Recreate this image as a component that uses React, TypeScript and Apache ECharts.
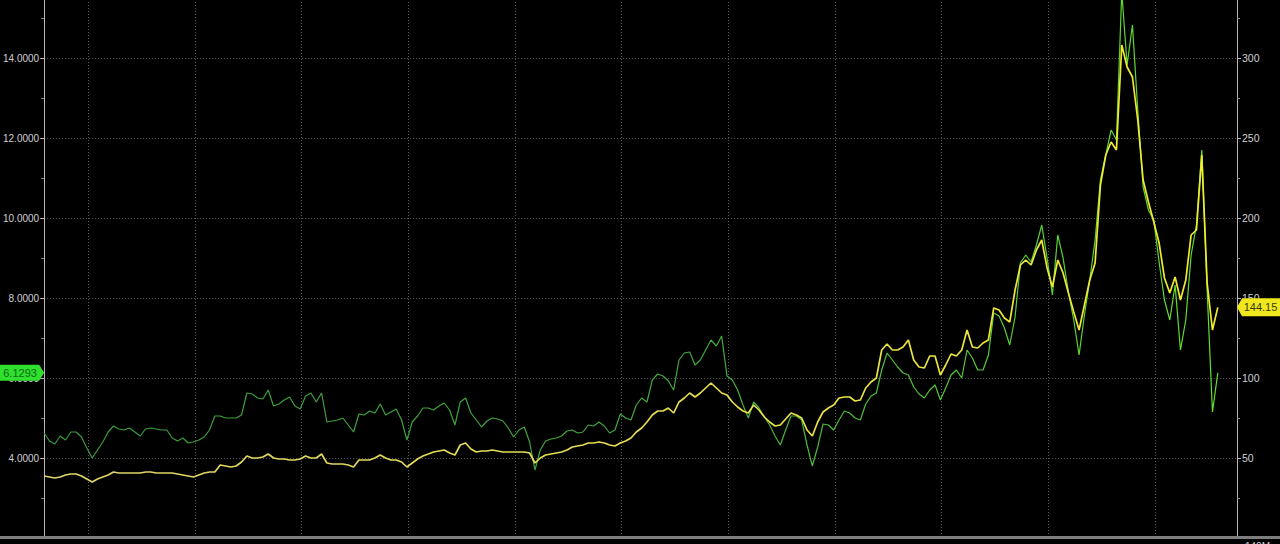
import React, { useEffect, useRef } from "react";
import * as echarts from "echarts";

// Time axis (fractional years), regular weekly-ish sampling
const X_MIN = 2011.588;
const X_MAX = 2022.768;
const X_STEP = 0.05;

// Left axis series (green)
const GREEN = [
  4.625, 4.425, 4.35, 4.55, 4.45, 4.65, 4.65, 4.525, 4.25, 4.0,
  4.2, 4.4, 4.65, 4.8, 4.725, 4.7, 4.75, 4.65, 4.55, 4.725,
  4.75, 4.725, 4.7, 4.7, 4.5, 4.425, 4.5, 4.375, 4.4, 4.45,
  4.525, 4.7, 5.05, 5.05, 5.0, 5.0, 5.0, 5.075, 5.625, 5.6,
  5.5, 5.475, 5.7, 5.3, 5.35, 5.45, 5.525, 5.3, 5.225, 5.55,
  5.625, 5.4, 5.625, 4.9, 4.925, 4.95, 5.0, 4.825, 4.65, 5.1,
  5.075, 5.175, 5.125, 5.35, 5.075, 5.15, 5.225, 4.95, 4.45, 4.9,
  5.05, 5.25, 5.25, 5.2, 5.3, 5.375, 5.2, 4.825, 5.4, 5.5,
  5.125, 4.95, 4.775, 4.925, 5.0, 4.975, 4.925, 4.75, 4.525, 4.7,
  4.775, 4.4, 3.7, 4.2, 4.425, 4.475, 4.5, 4.55, 4.675, 4.7,
  4.625, 4.65, 4.825, 4.8, 4.9, 4.8, 4.625, 4.7, 5.1, 5.0,
  4.95, 5.325, 5.5, 5.4, 5.95, 6.1, 6.05, 5.925, 5.7, 6.45,
  6.625, 6.65, 6.325, 6.45, 6.7, 6.95, 6.8, 7.05, 6.05, 5.95,
  5.7, 5.325, 5.0, 5.4, 5.25, 5.025, 4.825, 4.55, 4.325, 4.7,
  5.05, 5.05, 4.95, 4.325, 3.8, 4.275, 4.85, 4.825, 4.7, 4.95,
  5.175, 5.125, 5.0, 4.95, 5.35, 5.55, 5.625, 6.2, 6.625, 6.45,
  6.275, 6.125, 6.075, 5.775, 5.6, 5.5, 5.7, 5.825, 5.45, 5.75,
  6.075, 6.2, 6.0, 6.7, 6.5, 6.2, 6.2, 6.575, 7.625, 7.55,
  7.25, 6.825, 7.525, 8.875, 9.075, 8.9, 9.325, 9.825, 9.0, 8.075,
  9.575, 9.0, 8.15, 7.45, 6.575, 7.575, 8.45, 9.45, 10.95, 11.575,
  12.2, 11.95, 15.65, 13.825, 14.825, 12.7, 10.775, 10.2, 9.95, 8.9,
  7.95, 7.45, 8.325, 6.7, 7.45, 9.075, 9.825, 11.7, 8.2, 5.15,
  6.1293,
];

// Right axis series (yellow)
const YELLOW = [
  38.75, 38.125, 37.5, 38.125, 39.375, 40, 40, 38.75, 36.875, 35,
  36.875, 38.125, 39.375, 41.25, 40.625, 40.625, 40.625, 40.625, 40.625, 41.25,
  41.25, 40.625, 40.625, 40.625, 40.625, 40, 39.375, 38.75, 38.125, 39.375,
  40.625, 41.25, 41.25, 45.625, 45, 44.375, 45, 47.5, 51.25, 50,
  50, 50.625, 52.5, 50, 49.375, 49.375, 48.75, 48.75, 49.375, 51.25,
  50, 50, 52.5, 46.875, 46.25, 46.25, 46.25, 45.625, 44.375, 48.75,
  48.75, 48.75, 50, 51.875, 50, 48.75, 48.75, 47.5, 44.375, 46.875,
  49.375, 51.25, 52.5, 53.75, 54.375, 55, 53.125, 51.875, 58.125, 59.375,
  55.625, 53.75, 54.375, 54.375, 55, 54.375, 53.75, 53.75, 53.75, 53.75,
  53.75, 53.125, 46.875, 50, 51.875, 52.5, 53.125, 53.75, 55, 56.875,
  57.5, 58.125, 59.375, 59.375, 60, 59.375, 58.125, 57.5, 59.375, 60.625,
  62.5, 66.25, 68.75, 72.5, 76.875, 79.375, 79.375, 81.25, 78.125, 85,
  87.5, 90.625, 88.125, 90.625, 93.75, 96.875, 93.75, 90.625, 89.375, 85,
  81.875, 79.375, 78.125, 83.125, 80, 75.625, 72.5, 70, 70.625, 74.375,
  78.125, 76.875, 75, 67.5, 63.75, 72.5, 78.75, 81.25, 83.125, 87.5,
  88.125, 88.125, 85.625, 86.25, 93.75, 97.5, 100, 117.5, 121.25, 117.5,
  117.5, 119.375, 123.75, 111.25, 106.875, 106.25, 113.75, 113.75, 101.875, 108.125,
  115, 113.75, 117.5, 130, 119.375, 118.75, 121.875, 123.75, 143.75, 142.5,
  137.5, 135, 155, 170.625, 173.75, 170.625, 180, 186.25, 168.75, 156.875,
  173.75, 165.625, 153.125, 141.25, 130, 145.625, 161.25, 171.875, 220.625, 239.375,
  247.5, 242.5, 308.125, 294.375, 288.125, 261.25, 223.75, 210, 197.5, 184.375,
  162.5, 153.125, 163.125, 148.75, 161.25, 189.375, 192.5, 239.375, 159.375, 130,
  144.15,
];

const LEFT_LABEL_MIN = 4;
const LEFT_LABEL_MAX = 14;
const RIGHT_LABEL_MIN = 50;
const RIGHT_LABEL_MAX = 300;
const VOLUME_LABEL = "140M";

const FONT = '"Liberation Sans", Arial, sans-serif';
const TOP_CROP = 22; // the reference picture is cropped at the top

export default function App() {
  const ref = useRef<HTMLDivElement>(null);

  useEffect(() => {
    if (!ref.current) return;
    const chart = echarts.init(ref.current, undefined, { renderer: "svg" });
    const dates = GREEN.map((_, i) => +(X_MIN + i * X_STEP).toFixed(3));
    const greenData = GREEN.map((v, i) => [dates[i], v]);
    const yellowData = YELLOW.map((v, i) => [dates[i], v]);

    chart.setOption({
      animation: false,
      backgroundColor: "#000000",
      grid: { left: 43, right: 43, top: 0, bottom: 6, containLabel: false },
      xAxis: {
        type: "value",
        min: X_MIN,
        max: X_MAX,
        splitNumber: 11,
        axisLine: { show: false },
        axisTick: { show: false },
        axisLabel: { show: false },
        splitLine: { show: true, lineStyle: { color: "#5c5c5c", type: [1, 2], width: 1 } },
      },
      yAxis: [
        {
          type: "value",
          position: "left",
          min: 2,
          max: 16,
          interval: 2,
          axisLine: { show: true, lineStyle: { color: "#b8b8b8", width: 1 } },
          axisTick: { show: true, length: 4, lineStyle: { color: "#b8b8b8" } },
          minorTick: { show: true, splitNumber: 2, length: 3, lineStyle: { color: "#8a8a8a" } },
          splitLine: { show: false },
          axisLabel: {
            color: "#cfcfcf",
            fontSize: 10,
            fontFamily: FONT,
            margin: 5,
            formatter: (v: number) =>
              v >= LEFT_LABEL_MIN && v <= LEFT_LABEL_MAX ? v.toFixed(4) : "",
          },
        },
        {
          type: "value",
          position: "right",
          min: 0,
          max: 350,
          interval: 50,
          axisLine: { show: true, lineStyle: { color: "#b8b8b8", width: 1 } },
          axisTick: { show: true, length: 4, lineStyle: { color: "#b8b8b8" } },
          minorTick: { show: true, splitNumber: 2, length: 3, lineStyle: { color: "#8a8a8a" } },
          splitLine: { show: true, lineStyle: { color: "#5c5c5c", type: [1, 2], width: 1 } },
          axisLabel: {
            color: "#cfcfcf",
            fontSize: 10.5,
            fontFamily: FONT,
            margin: 5,
            formatter: (v: number) =>
              v >= RIGHT_LABEL_MIN && v <= RIGHT_LABEL_MAX ? String(v) : "",
          },
        },
      ],
      series: [
        {
          name: "green",
          type: "line",
          yAxisIndex: 0,
          data: greenData,
          showSymbol: false,
          symbol: "none",
          lineStyle: {
            width: 1.2,
            color: new echarts.graphic.LinearGradient(0, 0, 1, 0, [
              { offset: 0, color: "#3a9a3a" },
              { offset: 0.55, color: "#42a83e" },
              { offset: 0.8, color: "#56cc36" },
              { offset: 1, color: "#62de2c" },
            ]),
          },
          z: 2,
        },
        {
          name: "yellow",
          type: "line",
          yAxisIndex: 1,
          data: yellowData,
          showSymbol: false,
          symbol: "none",
          lineStyle: {
            width: 1.7,
            color: new echarts.graphic.LinearGradient(0, 0, 1, 0, [
              { offset: 0, color: "#ddd46a" },
              { offset: 0.6, color: "#e6df4a" },
              { offset: 1, color: "#f0ec2a" },
            ]),
          },
          z: 3,
        },
      ],
    });

    // Last-value badges positioned through the axes' scales
    const lastG = GREEN[GREEN.length - 1];
    const lastY = YELLOW[YELLOW.length - 1];
    const yG = chart.convertToPixel({ yAxisIndex: 0 }, lastG) as number;
    const yY = chart.convertToPixel({ yAxisIndex: 1 }, lastY) as number;
    const xL = chart.convertToPixel({ xAxisIndex: 0 }, X_MIN) as number;
    const xR = chart.convertToPixel({ xAxisIndex: 0 }, X_MAX) as number;
    const W = chart.getWidth();
    const bottomY = chart.convertToPixel({ yAxisIndex: 1 }, 0) as number;

    chart.setOption({
      graphic: [
        {
          type: "rect",
          shape: { x: 0, y: bottomY - 2, width: W, height: 3 },
          style: { fill: "#7d7d7d" },
          z: 10,
        },
        {
          type: "text",
          style: {
            text: VOLUME_LABEL,
            x: xR + 8,
            y: bottomY + 3,
            fill: "#cfcfcf",
            font: `10px ${FONT}`,
            verticalAlign: "top",
          },
          z: 10,
        },
        {
          type: "polygon",
          shape: {
            points: [
              [0, yG - 8],
              [xL - 5, yG - 8],
              [xL, yG],
              [xL - 5, yG + 8],
              [0, yG + 8],
            ],
          },
          style: { fill: "#2fe02f" },
          z: 20,
        },
        {
          type: "text",
          style: {
            text: lastG.toFixed(4),
            x: (xL - 4) / 2,
            y: yG,
            fill: "#0f6a12",
            font: `11px ${FONT}`,
            align: "center",
            verticalAlign: "middle",
          },
          z: 21,
        },
        {
          type: "polygon",
          shape: {
            points: [
              [xR, yY],
              [xR + 5, yY - 9],
              [W, yY - 9],
              [W, yY + 9],
              [xR + 5, yY + 9],
            ],
          },
          style: { fill: "#f0e81c" },
          z: 20,
        },
        {
          type: "text",
          style: {
            text: lastY.toFixed(2),
            x: (xR + 4 + W) / 2,
            y: yY,
            fill: "#3a3a10",
            font: `11px ${FONT}`,
            align: "center",
            verticalAlign: "middle",
          },
          z: 21,
        },
      ],
    });

    return () => {
      chart.dispose();
    };
  }, []);

  return (
    <div
      style={{
        position: "fixed",
        left: 0,
        top: 0,
        width: 1280,
        height: 544,
        overflow: "hidden",
        background: "#000",
      }}
    >
      <div
        ref={ref}
        style={{
          position: "absolute",
          left: 0,
          top: -TOP_CROP,
          width: 1280,
          height: 544 + TOP_CROP,
        }}
      />
    </div>
  );
}
